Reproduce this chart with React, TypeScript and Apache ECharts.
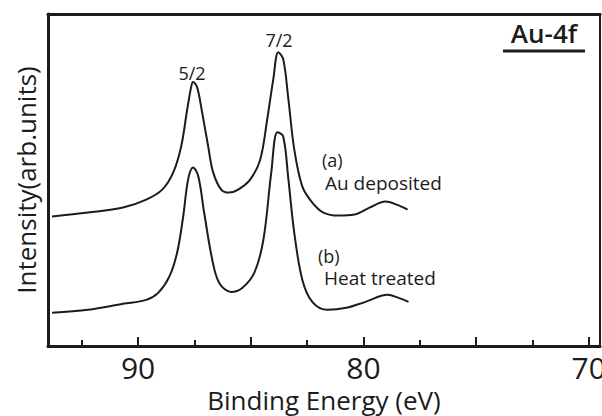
import React, { useEffect, useRef } from "react";
import * as echarts from "echarts";

// Binding energy (eV) and intensity (arb. units)
const energyA = [93.82, 92.22, 90.67, 89.64, 88.93, 88.44, 88.09, 87.82, 87.64, 87.56, 87.38, 87.16, 86.89, 86.67, 86.31, 85.96, 85.56, 85.02, 84.58, 84.27, 84.0, 83.78, 83.56, 83.33, 83.07, 82.71, 82.27, 81.78, 81.11, 80.4, 79.73, 79.02, 78.53, 78.04];
const intensityA = [39.0, 40.2, 41.7, 44.1, 47.1, 52.3, 60.1, 71.3, 78.2, 79.5, 77.9, 70.4, 60.1, 52.3, 47.1, 46.2, 47.1, 50.2, 56.2, 68.3, 80.4, 88.5, 86.4, 74.3, 59.2, 48.0, 43.2, 40.2, 39.3, 39.6, 41.7, 43.5, 42.6, 41.1];

const energyB = [93.82, 92.22, 90.67, 89.64, 89.11, 88.62, 88.27, 88.0, 87.78, 87.56, 87.33, 87.07, 86.71, 86.4, 85.87, 85.38, 84.84, 84.44, 84.09, 83.82, 83.56, 83.33, 83.07, 82.71, 82.27, 81.6, 80.76, 79.91, 78.93, 78.44, 78.0];
const intensityB = [10.0, 10.9, 12.7, 13.9, 16.0, 20.8, 28.1, 39.0, 50.2, 53.8, 51.1, 40.2, 26.0, 19.0, 16.3, 17.5, 22.1, 32.0, 52.3, 64.4, 63.1, 50.2, 34.1, 19.9, 13.3, 10.9, 11.5, 13.3, 15.4, 14.5, 13.3];

const majorTicks = [70, 75, 80, 85, 90];
const minorTicks = [72.5, 77.5, 82.5, 87.5, 92.5];
const tickLabels = [70, 80, 90];

const xMin = 69.5;
const xMax = 94;

const FONT = "Open Sans";
const INK = "#1c1c1c";

export default function App() {
  const ref = useRef<HTMLDivElement>(null);

  useEffect(() => {
    if (!ref.current) return;
    const chart = echarts.init(ref.current, undefined, { renderer: "svg" });
    const dataA = energyA.map((e, i) => [e, intensityA[i]]);
    const dataB = energyB.map((e, i) => [e, intensityB[i]]);

    chart.setOption({
      animation: false,
      backgroundColor: "#ffffff",
      textStyle: { fontFamily: FONT, color: INK },
      grid: {
        left: 48,
        right: 2,
        top: 14,
        bottom: 70,
        outerBoundsMode: "none",
        containLabel: false,
        show: true,
        borderColor: INK,
        borderWidth: 2,
        backgroundColor: "transparent",
      },
      xAxis: [
        {
          type: "value",
          min: xMin,
          max: xMax,
          inverse: true,
          position: "bottom",
          name: "Binding Energy (eV)",
          nameLocation: "middle",
          nameGap: 35,
          nameTextStyle: { fontFamily: FONT, fontSize: 26, lineHeight: 26, color: INK },
          axisLine: { show: true, lineStyle: { color: INK, width: 3 } },
          axisTick: {
            show: true,
            inside: true,
            length: 9,
            customValues: majorTicks,
            lineStyle: { color: INK, width: 2 },
          },
          axisLabel: {
            show: true,
            customValues: tickLabels,
            margin: 8,
            fontFamily: FONT,
            fontSize: 30,
            lineHeight: 26,
            color: INK,
          },
          splitLine: { show: false },
        },
        {
          type: "value",
          min: xMin,
          max: xMax,
          inverse: true,
          position: "bottom",
          axisLine: { show: false },
          axisTick: {
            show: true,
            inside: true,
            length: 6,
            customValues: minorTicks,
            lineStyle: { color: INK, width: 2 },
          },
          axisLabel: { show: false },
          splitLine: { show: false },
        },
        {
          type: "value",
          min: xMin,
          max: xMax,
          inverse: true,
          position: "top",
          axisLine: { show: true, lineStyle: { color: INK, width: 3 } },
          axisTick: { show: false },
          axisLabel: { show: false },
          splitLine: { show: false },
        },
      ],
      yAxis: {
        type: "value",
        min: 0,
        max: 100,
        name: "Intensity(arb.units)",
        nameLocation: "middle",
        nameGap: 9,
        nameTextStyle: { fontFamily: FONT, fontSize: 26, color: INK },
        axisLine: { show: true, lineStyle: { color: INK, width: 3 } },
        axisTick: { show: false },
        axisLabel: { show: false },
        splitLine: { show: false },
      },
      series: [
        {
          name: "(a) Au deposited",
          type: "line",
          xAxisIndex: 0,
          data: dataA,
          smooth: 0.35,
          showSymbol: false,
          lineStyle: { color: INK, width: 2 },
        },
        {
          name: "(b) Heat treated",
          type: "line",
          xAxisIndex: 0,
          data: dataB,
          smooth: 0.35,
          showSymbol: false,
          lineStyle: { color: INK, width: 2 },
        },
      ],
      graphic: [
        { type: "text", x: 192, y: 73, style: { text: "5/2", font: `18px '${FONT}'`, lineHeight: 18, fill: INK, textAlign: "center", textVerticalAlign: "middle" } },
        { type: "text", x: 279, y: 40, style: { text: "7/2", font: `18px '${FONT}'`, lineHeight: 18, fill: INK, textAlign: "center", textVerticalAlign: "middle" } },
        { type: "text", x: 322, y: 160, style: { text: "(a)", font: `18px '${FONT}'`, lineHeight: 18, fill: INK, textAlign: "left", textVerticalAlign: "middle" } },
        { type: "text", x: 325, y: 183, style: { text: "Au deposited", font: `19px '${FONT}'`, lineHeight: 19, fill: INK, textAlign: "left", textVerticalAlign: "middle" } },
        { type: "text", x: 318, y: 256, style: { text: "(b)", font: `18px '${FONT}'`, lineHeight: 18, fill: INK, textAlign: "left", textVerticalAlign: "middle" } },
        { type: "text", x: 324, y: 278, style: { text: "Heat treated", font: `19px '${FONT}'`, lineHeight: 19, fill: INK, textAlign: "left", textVerticalAlign: "middle" } },
        { type: "text", x: 544, y: 33, style: { text: "Au-4f", font: `600 26px '${FONT}'`, lineHeight: 26, fill: INK, textAlign: "center", textVerticalAlign: "middle" } },
        { type: "line", shape: { x1: 503, y1: 51, x2: 585, y2: 51 }, style: { stroke: INK, lineWidth: 3 } },
      ],
    });

    return () => chart.dispose();
  }, []);

  return (
    <div
      ref={ref}
      style={{ position: "absolute", left: 0, top: 0, width: 602, height: 416 }}
    />
  );
}
